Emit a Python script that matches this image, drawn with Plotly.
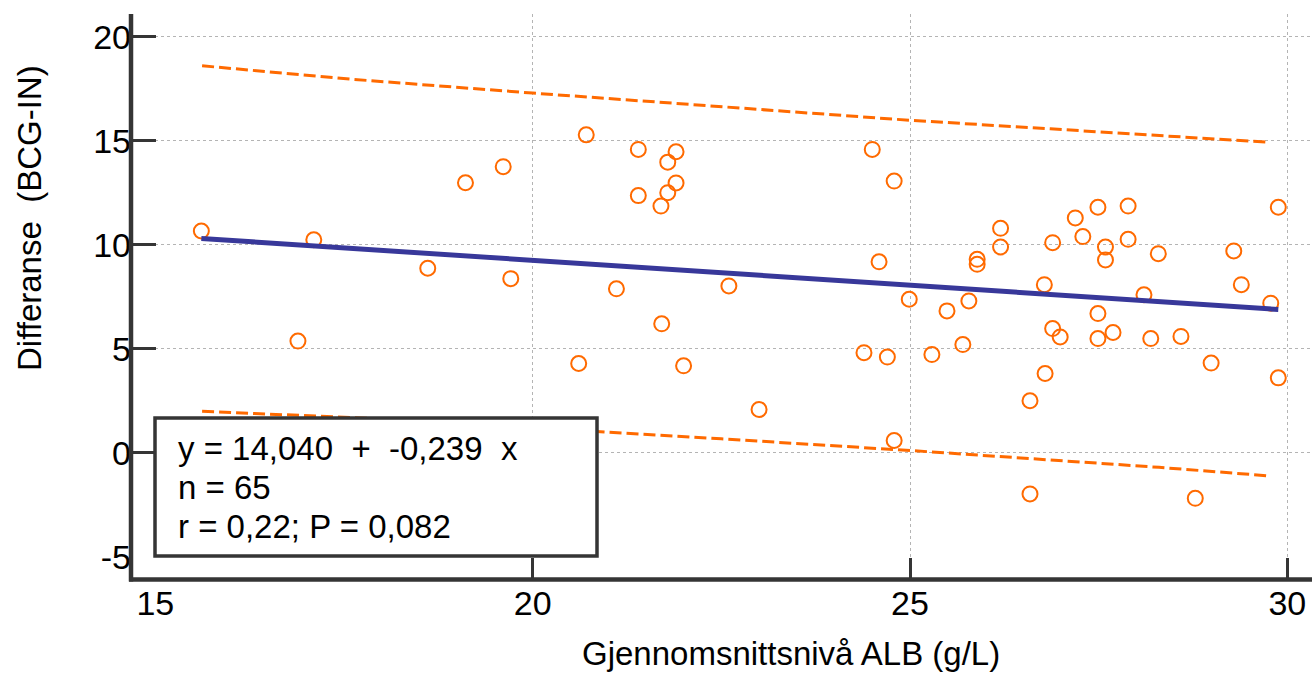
import plotly.graph_objects as go

# ---- data ----
alb_x = [15.61, 16.89, 17.10, 18.61, 19.11, 19.61, 19.71, 20.61, 20.71, 21.11,
         21.40, 21.40, 21.70, 21.71, 21.79, 21.79, 21.90, 21.90, 22.00, 22.60,
         23.00, 24.39, 24.50, 24.59, 24.70, 24.79, 24.79, 24.99, 25.29, 25.49,
         25.70, 25.78, 25.89, 25.89, 26.20, 26.20, 26.59, 26.59, 26.78, 26.79,
         26.89, 26.89, 26.99, 27.19, 27.29, 27.49, 27.49, 27.49, 27.59, 27.59,
         27.69, 27.89, 27.89, 28.10, 28.19, 28.29, 28.59, 28.78, 28.99, 29.29,
         29.39, 29.78, 29.88, 29.88]
diff_y = [10.67, 5.38, 10.25, 8.88, 12.99, 13.76, 8.38, 4.30, 15.29, 7.89,
          14.59, 12.37, 11.87, 6.21, 13.98, 12.51, 14.48, 12.98, 4.19, 8.03,
          2.09, 4.82, 14.59, 9.19, 4.61, 13.07, 0.60, 7.39, 4.73, 6.83,
          5.21, 7.31, 9.31, 9.07, 10.80, 9.90, 2.51, -1.97, 8.09, 3.82,
          10.11, 5.98, 5.58, 11.30, 10.40, 11.81, 6.70, 5.50, 9.90, 9.28,
          5.79, 11.87, 10.27, 7.60, 5.50, 9.58, 5.60, -2.18, 4.32, 9.71,
          8.09, 7.20, 11.81, 3.61]

fit_x = [15.61, 29.88]
fit_y = [10.31, 6.90]

band_x = [15.62, 17.58, 20.00, 20.89, 22.50, 25.00, 26.86, 28.30, 29.72]
band_upper = [18.61, 17.97, 17.30, 17.07, 16.64, 15.99, 15.58, 15.25, 14.94]
band_lower = [2.00, 1.71, 1.22, 1.04, 0.68, 0.12, -0.34, -0.69, -1.09]

x_ticks = [15, 20, 25, 30]
x_tick_text = ["15", "20", "25", "30"]
y_ticks = [-5, 0, 5, 10, 15, 20]
y_tick_text = ["-5", "0", "5", "10", "15", "20"]

box_lines = ["y = 14,040\u00a0 +\u00a0 -0,239\u00a0 x", "n = 65", "r = 0,22; P = 0,082"]
x_title = "Gjennomsnittsnivå ALB (g/L)"
y_title = "Differanse\u00a0 (BCG-IN)"

# ---- styling ----
W, H = 1314, 676
ORANGE = "#ff6a00"
NAVY = "#38389a"
AXC = "#353535"
FONT = "Liberation Sans, Arial, sans-serif"


def px(x):
    return x / W


def py(y):
    return 1 - y / H


fig = go.Figure()
fig.add_trace(go.Scatter(x=alb_x, y=diff_y, mode="markers",
                         marker=dict(symbol="circle-open", size=15, color=ORANGE,
                                     line=dict(width=2, color=ORANGE)),
                         showlegend=False, hoverinfo="x+y"))
fig.add_trace(go.Scatter(x=band_x, y=band_upper, mode="lines",
                         line=dict(color=ORANGE, width=3, dash="12px,5px"),
                         showlegend=False))
fig.add_trace(go.Scatter(x=band_x, y=band_lower, mode="lines",
                         line=dict(color=ORANGE, width=3, dash="12px,5px"),
                         showlegend=False))
fig.add_trace(go.Scatter(x=fit_x, y=fit_y, mode="lines",
                         line=dict(color=NAVY, width=5),
                         showlegend=False))

fig.update_layout(
    width=W, height=H,
    margin=dict(l=0, r=0, t=0, b=0, autoexpand=False),
    paper_bgcolor="white", plot_bgcolor="white",
    font=dict(family=FONT, color="black"),
    xaxis=dict(domain=[px(155.3), px(1310)], range=[15, 30.30],
               anchor="free", position=py(579.5), automargin=False,
               tickvals=x_ticks, ticktext=x_tick_text,
               ticks="inside", ticklen=22, tickwidth=3,
               tickcolor=AXC, showline=False, zeroline=False,
               showgrid=True, gridcolor="#b4b4b4", griddash="dot", gridwidth=1,
               tickfont=dict(size=34, family=FONT, color="black")),
    yaxis=dict(domain=[py(557), py(14)], range=[-5, 21.1],
               anchor="free", position=px(131), automargin=False,
               tickvals=y_ticks, ticktext=y_tick_text,
               ticks="inside", ticklen=24, tickwidth=3,
               tickcolor=AXC, showline=False, zeroline=False,
               showgrid=True, gridcolor="#b4b4b4", griddash="dot", gridwidth=1,
               tickfont=dict(size=34, family=FONT, color="black")),
)

# axis lines (paper coordinates)
fig.add_shape(type="line", xref="paper", yref="paper",
              x0=px(131), x1=px(131), y0=py(581.5), y1=py(14),
              line=dict(color=AXC, width=4.5))
fig.add_shape(type="line", xref="paper", yref="paper",
              x0=px(129), x1=px(1312), y0=py(579.5), y1=py(579.5),
              line=dict(color=AXC, width=4.5))

# statistics box
fig.add_shape(type="rect", xref="paper", yref="paper",
              x0=px(155), x1=px(597), y0=py(556), y1=py(418),
              fillcolor="white", line=dict(color=AXC, width=3.5), layer="above")
for txt, yc in zip(box_lines, [448, 487, 526]):
    fig.add_annotation(text=txt, xref="paper", yref="paper", x=px(176), y=py(yc),
                       xanchor="left", yanchor="middle", showarrow=False,
                       font=dict(size=33, family=FONT, color="black"))

fig.add_annotation(text=x_title, xref="paper", yref="paper", x=px(580), y=py(674),
                   xanchor="left", yanchor="bottom", showarrow=False,
                   font=dict(size=33, family=FONT, color="black"))
fig.add_annotation(text=y_title, xref="paper", yref="paper", x=px(29), y=py(218),
                   xanchor="center", yanchor="middle", textangle=-90, showarrow=False,
                   font=dict(size=33, family=FONT, color="black"))

fig.write_html("out.html")
